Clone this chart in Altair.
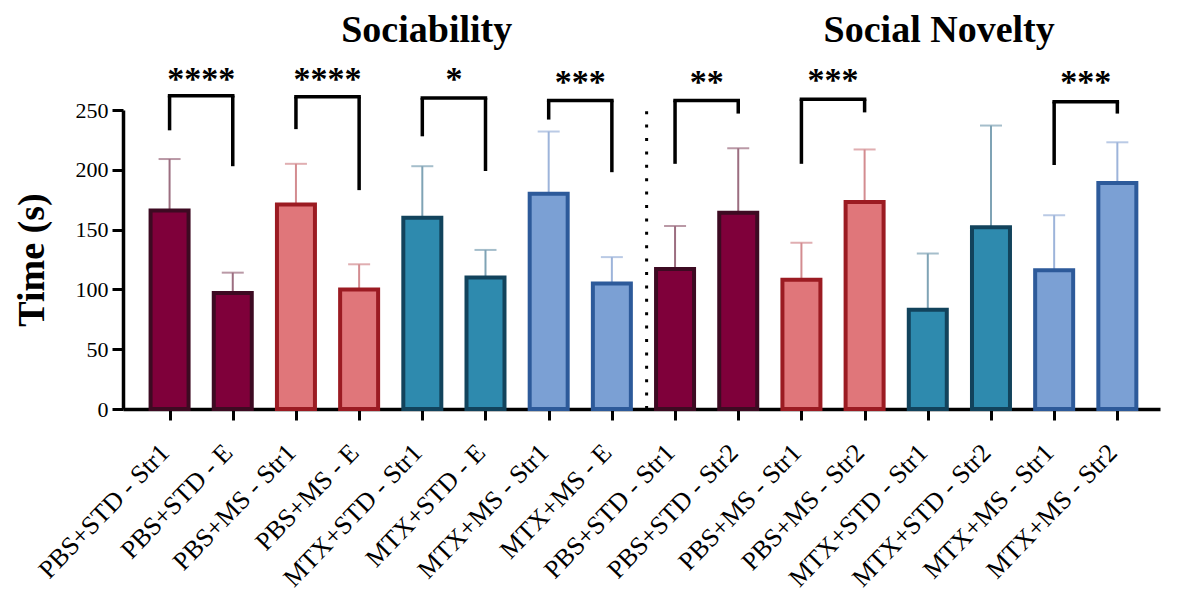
import altair as alt
import pandas as pd

labels = ["PBS+STD - Str1", "PBS+STD - E", "PBS+MS - Str1", "PBS+MS - E",
          "MTX+STD - Str1", "MTX+STD - E", "MTX+MS - Str1", "MTX+MS - E",
          "PBS+STD - Str1", "PBS+STD - Str2", "PBS+MS - Str1", "PBS+MS - Str2",
          "MTX+STD - Str1", "MTX+STD - Str2", "MTX+MS - Str1", "MTX+MS - Str2"]
means = [166, 97, 171, 100, 160, 110, 180, 105, 117, 164, 108, 173, 83, 152, 116, 189]
caps = [209, 114, 205, 121, 203, 133, 232, 127, 153, 218, 139, 217, 130, 237, 162, 223]
groups = ["PBS+STD", "PBS+STD", "PBS+MS", "PBS+MS", "MTX+STD", "MTX+STD", "MTX+MS", "MTX+MS",
          "PBS+STD", "PBS+STD", "PBS+MS", "PBS+MS", "MTX+STD", "MTX+STD", "MTX+MS", "MTX+MS"]

group_names = ["PBS+STD", "PBS+MS", "MTX+STD", "MTX+MS"]
fill_colors = ["#7F003A", "#E0767A", "#2E8AAE", "#7BA0D4"]
stroke_colors = ["#3D0A22", "#9B1B22", "#12435C", "#2D5A9A"]
err_colors = ["#9C6E80", "#D38C90", "#7FA3B5", "#9DB4DA"]

br_left = [0, 2, 4, 6, 8, 10, 14]
br_right = [1, 3, 5, 7, 9, 11, 15]
br_top = [262, 261, 260, 258, 258, 259, 257]
br_lbot = [233, 234, 228, 242, 205, 205, 204]
br_rbot = [203, 183, 199, 198, 247, 248, 247]
br_stars = ["****", "****", "*", "***", "**", "***", "***"]
star_y = [280, 280, 280, 278, 278, 279, 278]

panel_titles = ["Sociability", "Social Novelty"]
panel_x = [4.07, 12.18]
panel_y = [307, 307]

divider_x = 7.55
divider_top = 252

FONT = "Liberation Serif"

bars = pd.DataFrame({"idx": list(range(16)), "label": labels, "mean": means,
                     "cap": caps, "group": groups})
brk = pd.DataFrame({"l": br_left, "r": br_right, "top": br_top, "lb": br_lbot,
                    "rb": br_rbot, "stars": br_stars, "sy": star_y,
                    "mid": [(a + b) / 2 for a, b in zip(br_left, br_right)]})
tit = pd.DataFrame({"t": panel_titles, "x": panel_x, "y": panel_y})
div = pd.DataFrame({"x": [divider_x], "y0": [0], "y1": [divider_top]})

label_expr = "[" + ",".join("'" + s + "'" for s in labels) + "][datum.value]"

xscale = alt.Scale(domain=[-0.658, 15.596], nice=False, zero=False)
yscale = alt.Scale(domain=[0, 250], nice=False)

x_axis = alt.Axis(values=list(range(16)), labelExpr=label_expr, labelAngle=-46,
                  labelAlign="right", labelBaseline="middle", labelFont=FONT,
                  labelFontSize=26, labelPadding=28, labelOffset=-5, labelLimit=0,
                  tickSize=11, grid=False, title=None, labelOverlap=False,
                  labelFlush=False)
y_axis = alt.Axis(values=[0, 50, 100, 150, 200, 250], labelFontSize=22, labelFont=FONT,
                  tickSize=11, grid=False, title="Time (s)", titleFont=FONT,
                  titleFontSize=38, titleFontWeight="bold",
                  titlePadding=24, labelPadding=4)

err_color = alt.Color("group:N", scale=alt.Scale(domain=group_names, range=err_colors), legend=None)

base = alt.Chart(bars)

errs = base.mark_rule(strokeWidth=2).encode(
    x=alt.X("idx:Q", scale=xscale, axis=x_axis),
    y=alt.Y("mean:Q", scale=yscale, axis=y_axis),
    y2="cap:Q",
    color=err_color,
)
err_caps = base.mark_tick(orient="horizontal", size=22, thickness=2).encode(
    x=alt.X("idx:Q", scale=xscale, axis=x_axis),
    y=alt.Y("cap:Q", scale=yscale, axis=y_axis),
    color=err_color,
)
barmark = base.mark_bar(size=38, strokeWidth=4).encode(
    x=alt.X("idx:Q", scale=xscale, axis=x_axis),
    y=alt.Y("mean:Q", scale=yscale, axis=y_axis),
    fill=alt.Fill("group:N", scale=alt.Scale(domain=group_names, range=fill_colors), legend=None),
    stroke=alt.Stroke("group:N", scale=alt.Scale(domain=group_names, range=stroke_colors), legend=None),
)

bb = alt.Chart(brk)
h = bb.mark_rule(strokeWidth=3.5, color="#000", strokeCap="square").encode(
    x=alt.X("l:Q", scale=xscale, axis=x_axis), x2="r:Q",
    y=alt.Y("top:Q", scale=yscale, axis=y_axis))
vl = bb.mark_rule(strokeWidth=3.5, color="#000").encode(
    x=alt.X("l:Q", scale=xscale, axis=x_axis),
    y=alt.Y("lb:Q", scale=yscale, axis=y_axis), y2="top:Q")
vr = bb.mark_rule(strokeWidth=3.5, color="#000").encode(
    x=alt.X("r:Q", scale=xscale, axis=x_axis),
    y=alt.Y("rb:Q", scale=yscale, axis=y_axis), y2="top:Q")
st = bb.mark_text(font=FONT, fontSize=34, fontWeight="bold", color="#000",
                  baseline="middle", align="center", dy=6).encode(
    x=alt.X("mid:Q", scale=xscale, axis=x_axis),
    y=alt.Y("sy:Q", scale=yscale, axis=y_axis), text="stars:N")

tt = alt.Chart(tit).mark_text(font=FONT, fontSize=38, fontWeight="bold", color="#000",
                              baseline="alphabetic", align="center").encode(
    x=alt.X("x:Q", scale=xscale, axis=x_axis),
    y=alt.Y("y:Q", scale=yscale, axis=y_axis), text="t:N")

dv = alt.Chart(div).mark_rule(strokeWidth=3, color="#000", strokeDash=[3, 10.4]).encode(
    x=alt.X("x:Q", scale=xscale, axis=x_axis),
    y=alt.Y("y0:Q", scale=yscale, axis=y_axis), y2="y1:Q")

chart = alt.layer(errs, err_caps, barmark, dv, h, vl, vr, st, tt).properties(
    width=1037, height=299,
    autosize=alt.AutoSizeParams(type="none"),
    padding={"left": 115, "top": 102, "right": 10, "bottom": 188},
    background="white",
).configure_view(stroke=None).configure_axis(
    labelFont=FONT, titleFont=FONT, labelColor="#000", titleColor="#000",
    tickColor="#000", domainColor="#000", tickWidth=3, domainWidth=3.5,
)

chart.save("out.html", embed_options={"renderer": "svg", "actions": False})
